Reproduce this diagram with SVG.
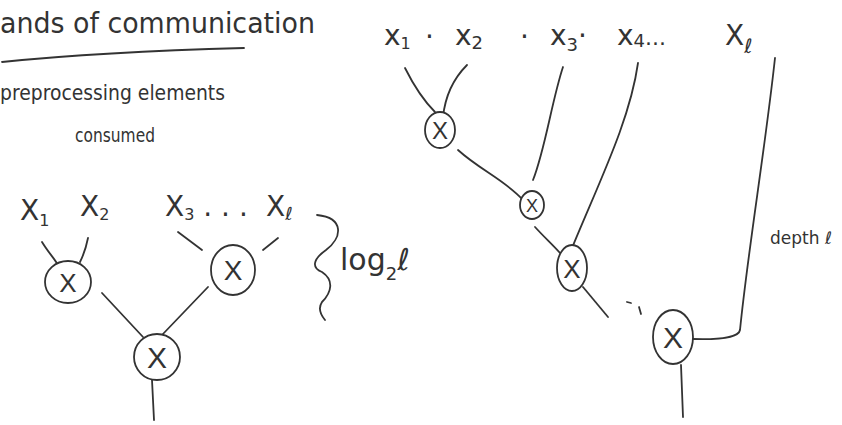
<svg xmlns="http://www.w3.org/2000/svg" width="842" height="425" viewBox="0 0 842 425">
<style>
.s{fill:none;stroke:#333;stroke-width:1.8;stroke-linecap:round;stroke-linejoin:round}
.t{font-family:"DejaVu Sans","Liberation Sans",sans-serif;fill:#333}
.n{fill:#fff;stroke:#333;stroke-width:1.8}
.x{font-family:"Liberation Sans",sans-serif;fill:#333;text-anchor:middle}
</style>
<rect width="842" height="425" fill="#fff"/>
<g id="title">
<text class="t" x="0" y="33" font-size="28" textLength="315" lengthAdjust="spacingAndGlyphs">ands of communication</text>
<path class="s" d="M2,62 C80,54 170,50 244,48"/>
<text class="t" x="0" y="100" font-size="22" textLength="225" lengthAdjust="spacingAndGlyphs">preprocessing elements</text>
<text class="t" x="75" y="142" font-size="20" textLength="80" lengthAdjust="spacingAndGlyphs">consumed</text>
</g>
<g id="left-labels" class="t" font-size="28">
<text x="20" y="220">X<tspan font-size="16" dy="6">1</tspan></text>
<text x="80" y="216">X<tspan font-size="16" dy="4">2</tspan></text>
<text x="165" y="216">X<tspan font-size="16" dy="4">3</tspan><tspan dy="-4"> . . .</tspan></text>
<text x="266" y="216">X<tspan font-size="18" dy="4">ℓ</tspan></text>
</g>
<g id="left-connectors">
<path class="s" d="M42,242 C48,252 54,258 58,265"/>
<path class="s" d="M88,238 C86,248 83,256 80,262"/>
<path class="s" d="M178,232 L202,250"/>
<path class="s" d="M278,238 L263,250"/>
<path class="s" d="M102,293 L143,337"/>
<path class="s" d="M208,287 L162,335"/>
<path class="s" d="M152,380 L154,420"/>
</g>
<g id="lnode1"><ellipse class="n" cx="68" cy="282" rx="23" ry="21"/><text class="x" x="68" y="292" font-size="26">X</text></g>
<g id="lnode2"><ellipse class="n" cx="233" cy="270" rx="22" ry="25"/><text class="x" x="233" y="280" font-size="28">X</text></g>
<g id="lnode3"><ellipse class="n" cx="157" cy="357" rx="23" ry="23"/><text class="x" x="157" y="368" font-size="30">X</text></g>
<g id="brace">
<path class="s" d="M317,215 C345,218 342,238 326,250 C312,260 312,268 322,272 C334,280 332,292 322,302 C318,308 320,314 325,320"/>
<text class="t" x="340" y="270" font-size="30">log<tspan font-size="18" dy="10">2</tspan><tspan dy="-10">ℓ</tspan></text>
</g>
<g id="right-labels" class="t" font-size="28">
<text x="384" y="45">x<tspan font-size="16" dy="4">1</tspan></text>
<text x="425" y="46">·</text>
<text x="455" y="45">x<tspan font-size="18" dy="4">2</tspan></text>
<text x="520" y="46">·</text>
<text x="550" y="45">x<tspan font-size="18" dy="6">3</tspan><tspan dy="-6">·</tspan></text>
<text x="617" y="45">x<tspan font-size="18" dy="2">4</tspan><tspan dy="-2" font-size="22">...</tspan></text>
<text x="725" y="45">X<tspan font-size="20" dy="8">ℓ</tspan></text>
</g>
<g id="right-connectors">
<path class="s" d="M405,68 C415,88 425,102 435,112"/>
<path class="s" d="M467,65 C452,80 445,98 443,117"/>
<path class="s" d="M458,150 C480,170 505,180 523,200"/>
<path class="s" d="M563,67 C552,100 545,150 533,180"/>
<path class="s" d="M638,63 C630,120 600,180 572,248"/>
<path class="s" d="M535,227 C545,238 553,245 560,253"/>
<path class="s" d="M583,287 L608,317"/>
<path class="s" d="M627,302 L631,303 M639,307 L641,314"/>
<path class="s" d="M775,58 C765,150 748,250 740,330 C739,336 725,340 693,339"/>
<path class="s" d="M681,365 L683,417"/>
</g>
<g id="rnode1"><ellipse class="n" cx="440" cy="130" rx="15" ry="18"/><text class="x" x="440" y="139" font-size="24">X</text></g>
<g id="rnode2"><ellipse class="n" cx="532" cy="205" rx="12" ry="14"/><text class="x" x="532" y="212" font-size="18">X</text></g>
<g id="rnode3"><ellipse class="n" cx="572" cy="268" rx="15" ry="23"/><text class="x" x="572" y="278" font-size="26">X</text></g>
<g id="rnode4"><ellipse class="n" cx="673" cy="337" rx="20" ry="27"/><text class="x" x="673" y="348" font-size="30">X</text></g>
<text class="t" x="770" y="244" font-size="17">depth ℓ</text>
</svg>
